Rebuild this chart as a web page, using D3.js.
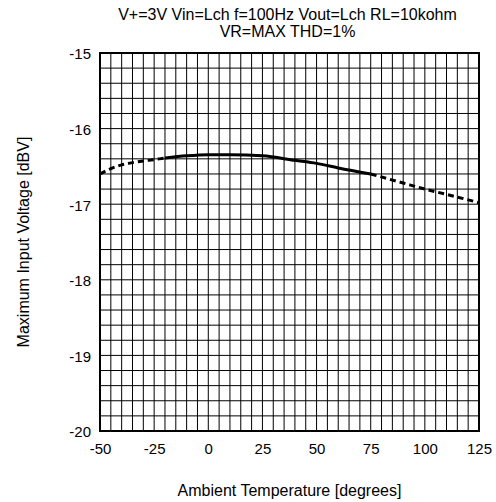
<!DOCTYPE html>
<html><head><meta charset="utf-8">
<script src="https://cdn.jsdelivr.net/npm/d3@7"></script>
<style>body{margin:0;background:#fff}svg{display:block}text{font-family:"Liberation Sans",Arial,sans-serif;fill:#000}</style>
</head><body><svg id="c" width="496" height="502"></svg>
<script>
const titleLines = ["V+=3V Vin=Lch f=100Hz Vout=Lch RL=10kohm", "VR=MAX THD=1%"];
const xTicks = [-50, -25, 0, 25, 50, 75, 100, 125];
const yTicks = [-15, -16, -17, -18, -19, -20];
const lowTemp = [-50, -45, -40, -35, -30, -25, -20];
const lowVal = [-16.60, -16.53, -16.48, -16.45, -16.43, -16.41, -16.39];
const midTemp = [-20, -10, 0, 10, 25, 40, 50, 60, 75];
const midVal = [-16.39, -16.36, -16.345, -16.345, -16.36, -16.42, -16.46, -16.52, -16.60];
const highTemp = [75, 90, 100, 110, 125];
const highVal = [-16.60, -16.72, -16.80, -16.87, -16.98];

const FS = 15, FL = 16;
const svg = d3.select("#c");
const L = 100, R = 479, T = 53, B = 431;
const x = d3.scaleLinear().domain([-50, 125]).range([L, R]);
const y = d3.scaleLinear().domain([-20, -15]).range([B, T]);
const fmt = d => String(d);

const g = svg.append("g");
g.selectAll("line.v").data(d3.range(-50, 126, 5)).enter().append("line")
  .attr("x1", d => x(d)).attr("x2", d => x(d)).attr("y1", T).attr("y2", B)
  .attr("stroke", "#000").attr("stroke-width", 1);
g.selectAll("line.h").data(d3.range(0, 26).map(i => -20 + i * 0.2)).enter().append("line")
  .attr("y1", d => y(d)).attr("y2", d => y(d)).attr("x1", L).attr("x2", R)
  .attr("stroke", "#000").attr("stroke-width", 1);
g.append("rect").attr("x", L).attr("y", T).attr("width", R - L).attr("height", B - T)
  .attr("fill", "none").attr("stroke", "#000").attr("stroke-width", 2);

const xa = d3.axisBottom(x).tickValues(xTicks).tickFormat(fmt).tickSize(0).tickPadding(12);
svg.append("g").attr("transform", `translate(0,${B})`).call(xa)
  .call(s => s.select(".domain").remove())
  .selectAll("text").attr("font-size", FS).attr("font-family", "Liberation Sans, Arial, sans-serif");
const ya = d3.axisLeft(y).tickValues(yTicks).tickFormat(fmt).tickSize(0).tickPadding(9);
svg.append("g").attr("transform", `translate(${L},1)`).call(ya)
  .call(s => s.select(".domain").remove())
  .selectAll("text").attr("font-size", FS).attr("font-family", "Liberation Sans, Arial, sans-serif");

const line = d3.line().x(d => x(d[0])).y(d => y(d[1])).curve(d3.curveMonotoneX);
const seg = (t, v) => t.map((d, i) => [d, v[i]]);
svg.append("path").datum(seg(lowTemp, lowVal)).attr("d", line)
  .attr("fill", "none").attr("stroke", "#000").attr("stroke-width", 3).attr("stroke-dasharray", "6,4");
svg.append("path").datum(seg(midTemp, midVal)).attr("d", line)
  .attr("fill", "none").attr("stroke", "#000").attr("stroke-width", 3);
svg.append("path").datum(seg(highTemp, highVal)).attr("d", line)
  .attr("fill", "none").attr("stroke", "#000").attr("stroke-width", 3).attr("stroke-dasharray", "6,4");

const cx = (L + R) / 2;
svg.append("text").attr("x", cx - 2).attr("y", 20).attr("text-anchor", "middle").attr("font-size", FL).text(titleLines[0]);
svg.append("text").attr("x", cx - 2).attr("y", 37).attr("text-anchor", "middle").attr("font-size", FL).text(titleLines[1]);
svg.append("text").attr("x", cx).attr("y", 496).attr("text-anchor", "middle").attr("font-size", FL).text("Ambient Temperature [degrees]");
svg.append("text").attr("transform", `translate(29,${(T + B) / 2}) rotate(-90)`).attr("text-anchor", "middle").attr("font-size", FL).text("Maximum Input Voltage [dBV]");
</script></body></html>
